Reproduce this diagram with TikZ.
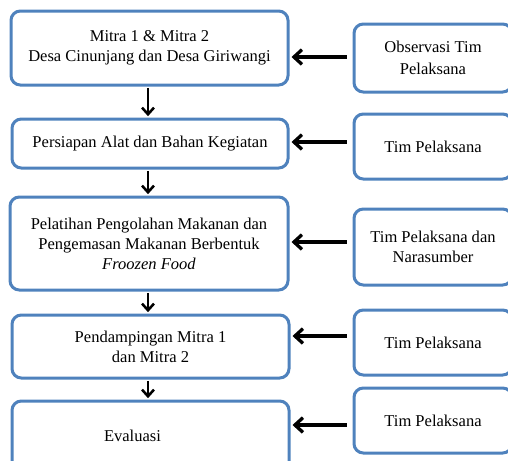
\documentclass[tikz,border=0pt]{standalone}
\usepackage{fontspec}
\setmainfont{Liberation Serif}
\usepackage{tikz}
\definecolor{officeblue}{rgb}{0.31, 0.51, 0.74}
\usetikzlibrary{arrows.meta}

\begin{document}
\begin{tikzpicture}[x=0.75pt,y=-0.75pt,
    stage/.style={draw=officeblue, line width=2.25pt, rounded corners=7pt,
        inner sep=0pt, align=center, font=\fontsize{12.4}{15}\selectfont,
        minimum width=207.75pt},
    actor/.style={stage, minimum width=118.5pt, minimum height=48.75pt},
    flow/.style={line width=1.9pt, -{Straight Barb[length=5pt,width=9pt]},
        shorten <=1pt, shorten >=1pt},
    feed/.style={line width=2.5pt, -{Straight Barb[length=6pt,width=11pt]},
        shorten <=4.5pt, shorten >=1.5pt}
]
\clip (0,0) rectangle (508,461);

% kegiatan (kiri)
\node[stage, minimum height=55.5pt] (l1) at (149.5,48)
    {Mitra 1 \& Mitra 2\\Desa Cinunjang dan Desa Giriwangi};
\node[stage, minimum height=36.75pt, minimum width=207pt] (l2) at (150,143.5)
    {Persiapan Alat dan Bahan Kegiatan};
\node[stage, minimum height=69.75pt, minimum width=208.5pt] (l3) at (149,243.5)
    {Pelatihan Pengolahan Makanan dan\\Pengemasan Makanan Berbentuk\\\textit{Froozen Food}};
\node[stage, minimum height=47.25pt] (l4) at (150.5,346.5)
    {Pendampingan Mitra 1\\dan Mitra 2};
\node[stage, minimum height=52.5pt] (l5) at (150.5,436)
    {Evaluasi\hspace*{27pt}};

% pelaksana (kanan)
\node[actor, minimum height=51pt] (r1) at (433,58)
    {Observasi Tim\\[2pt]Pelaksana};
\node[actor] (r2) at (433,146.5) {Tim Pelaksana};
\node[actor, minimum height=57pt] (r3) at (433,247)
    {Tim Pelaksana dan\\Narasumber};
\node[actor] (r4) at (433,342.5) {Tim Pelaksana};
\node[actor] (r5) at (433,420.5) {Tim Pelaksana};

% alur
\draw[flow] (l1.south -| 148,0) -- (l2.north -| 148,0);
\draw[flow] (l2.south -| 148,0) -- (l3.north -| 148,0);
\draw[flow] (l3.south -| 148,0) -- (l4.north -| 148,0);
\draw[flow] (l4.south -| 148,0) -- (l5.north -| 148,0);

\draw[feed] (r1.west |- 0,57) -- (l1.east |- 0,57);
\draw[feed] (r2.west |- 0,142) -- (l2.east |- 0,142);
\draw[feed] (r3.west |- 0,242) -- (l3.east |- 0,242);
\draw[feed] (r4.west |- 0,336) -- (l4.east |- 0,336);
\draw[feed] (r5.west |- 0,425) -- (l5.east |- 0,425);
\end{tikzpicture}
\end{document}
